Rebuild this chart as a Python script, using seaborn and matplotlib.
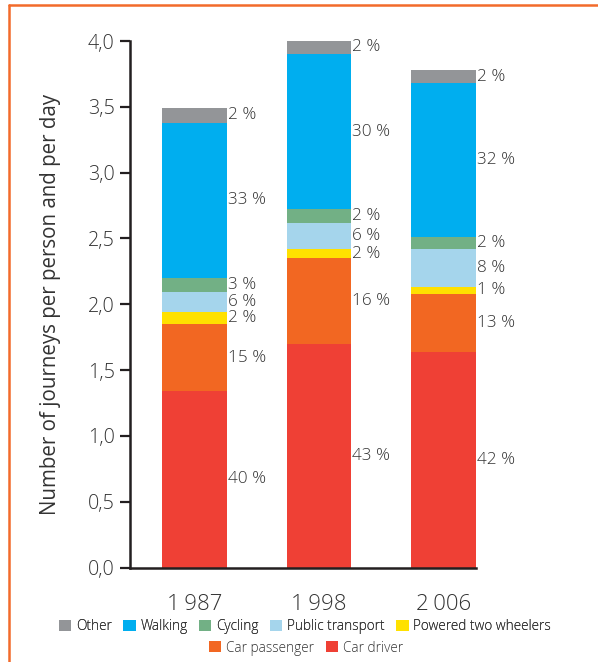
import matplotlib
matplotlib.use("Agg")
import matplotlib.pyplot as plt
from matplotlib.patches import Patch
from matplotlib.lines import Line2D
import numpy as np
import pandas as pd
import seaborn as sns

years = ["1\u2009987", "1\u2009998", "2\u2009006"]
modes = ["Car driver", "Car passenger", "Powered two wheelers", "Public transport",
         "Cycling", "Walking", "Other"]
car_driver = [1.34, 1.70, 1.64]
car_passenger = [0.51, 0.65, 0.44]
powered_two_wheelers = [0.09, 0.07, 0.05]
public_transport = [0.15, 0.20, 0.29]
cycling = [0.11, 0.10, 0.09]
walking = [1.18, 1.18, 1.17]
other = [0.11, 0.11, 0.10]

pct_driver = [40, 43, 42]
pct_passenger = [15, 16, 13]
pct_ptw = [2, 2, 1]
pct_pt = [6, 6, 8]
pct_cycling = [3, 2, 2]
pct_walking = [33, 30, 32]
pct_other = [2, 2, 2]

colors = ["#EF4035", "#F26722", "#FFE100", "#A5D5EC", "#72B085", "#00AEEF", "#939598"]
values = [car_driver, car_passenger, powered_two_wheelers, public_transport,
          cycling, walking, other]
pcts = [pct_driver, pct_passenger, pct_ptw, pct_pt, pct_cycling, pct_walking, pct_other]

sns.set_theme(style="white")
plt.rcParams['font.family'] = ['Open Sans', 'DejaVu Sans']
plt.rcParams['font.weight'] = 'light'
TXT = "#333333"

fig = plt.figure(figsize=(5.98, 6.62), dpi=100)
ax = fig.add_axes([130/598, 94.5/662, 346/598, 526.5/662])

vals = np.array(values)
cum = np.cumsum(vals, axis=0)
bw = 0.52
# draw from top layer downward (overlay technique for stacking)
for k in range(len(modes) - 1, -1, -1):
    df = pd.DataFrame({"year": years, "v": cum[k]})
    sns.barplot(data=df, x="year", y="v", color=colors[k], saturation=1,
                width=bw, ax=ax, linewidth=0, edgecolor="none")

# percentage labels
for k in range(len(modes)):
    for i in range(len(years)):
        lo = cum[k][i] - vals[k][i]
        mid = lo + vals[k][i] / 2
        ax.text(i + bw / 2 + 0.005, mid, f"{pcts[k][i]} %", ha="left", va="center",
                fontsize=12.3, color=TXT)

ax.set_xlim(-0.518, 2.26)
ax.set_ylim(0, 4.0)
ticks = np.arange(0, 4.01, 0.5)
ax.set_yticks(ticks)
ax.set_yticklabels([f"{t:.1f}".replace(".", ",") for t in ticks], fontsize=14.2, color=TXT)
ax.set_xticks(range(3))
ax.set_xticklabels(years, fontsize=16, color=TXT)
ax.tick_params(axis="x", length=0, pad=19)
ax.tick_params(axis="y", length=7, width=1.6, color="#231F20", direction="out", pad=4, left=True)
ax.set_xlabel("")
ax.set_ylabel("Number of journeys per person and per day", fontsize=14.8, color=TXT, labelpad=19)
for s in ["top", "right"]:
    ax.spines[s].set_visible(False)
for s in ["left", "bottom"]:
    ax.spines[s].set_color("#231F20")
    ax.spines[s].set_linewidth(1.8)

# orange frame lines
oc = "#F26B2B"
fig.add_artist(Line2D([9/598, 1.0], [1 - 5/662, 1 - 5/662], transform=fig.transFigure,
                      color=oc, linewidth=1.8))
fig.add_artist(Line2D([9/598, 9/598], [0, 1 - 5/662], transform=fig.transFigure,
                      color=oc, linewidth=1.8))

# legends in two centered rows
order1 = [6, 5, 4, 3, 2]
order2 = [1, 0]
h1 = [Patch(facecolor=colors[k], edgecolor="none", label=modes[k]) for k in order1]
h2 = [Patch(facecolor=colors[k], edgecolor="none", label=modes[k]) for k in order2]
lkw = dict(frameon=False, fontsize=9.8, handlelength=0.9, handleheight=0.9,
           handletextpad=0.35, columnspacing=0.85, borderpad=0, labelcolor=TXT)
leg1 = fig.legend(handles=h1, ncol=5, loc="center", bbox_to_anchor=(305/598, 1 - 627/662), **lkw)
fig.add_artist(leg1)
fig.legend(handles=h2, ncol=2, loc="center", bbox_to_anchor=(306/598, 1 - 648/662), **lkw)

fig.savefig("out.png", dpi=100)
